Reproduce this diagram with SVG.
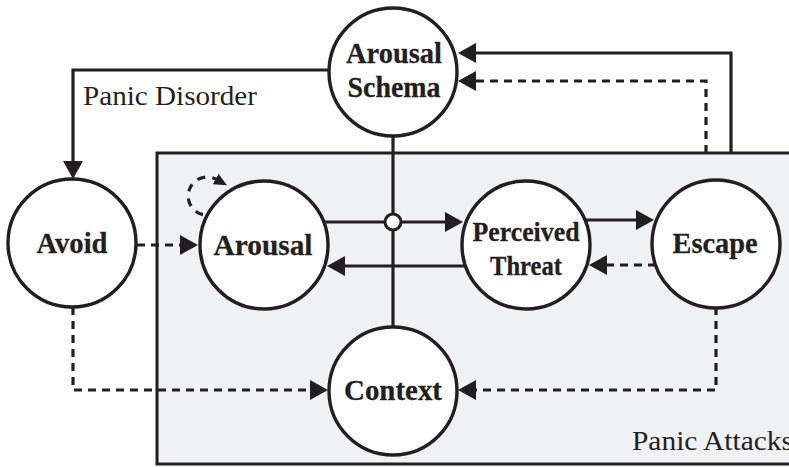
<svg xmlns="http://www.w3.org/2000/svg" width="789" height="467" viewBox="0 0 789 467">
  <style>
    .node circle { fill: #ffffff; stroke: #231f20; stroke-width: 3.4; }
    .lbl { font-weight: bold; font-size: 30px; fill: #231f20; stroke: #231f20; stroke-width: 0.3; text-anchor: middle; }
    .lbl.small { font-size: 27px; }
    .cap { font-size: 28px; fill: #231f20; }
    .edge { fill: none; stroke: #231f20; stroke-width: 3.2; }
    .dash { stroke-dasharray: 8 6; }
    .loop { stroke-dasharray: 8 7; }
  </style>
  <defs>
    <marker id="ah" viewBox="0 0 18 20" refX="8" refY="10" markerWidth="18" markerHeight="20" markerUnits="userSpaceOnUse" orient="auto">
      <path d="M0,0 L18,10 L0,20 Z" fill="#231f20"/>
    </marker>
    <marker id="ah-sm" viewBox="0 0 13 12" refX="1" refY="6" markerWidth="13" markerHeight="12" markerUnits="userSpaceOnUse" orient="auto">
      <path d="M0,0 L13,6 L0,12 Z" fill="#231f20"/>
    </marker>
  </defs>

  <!-- Panic Attacks region -->
  <g id="panic-attacks">
    <rect x="157" y="153" width="650" height="311" fill="#f0f1f3" stroke="#231f20" stroke-width="3"/>
    <text class="cap" font-family="Liberation Serif, Tinos, Times New Roman, serif" x="632" y="450" textLength="161" lengthAdjust="spacingAndGlyphs">Panic Attacks</text>
  </g>

  <text id="panic-disorder" class="cap" font-family="Liberation Serif, Tinos, Times New Roman, serif" x="83" y="105" textLength="174" lengthAdjust="spacingAndGlyphs">Panic Disorder</text>

  <!-- connectors -->
  <g id="connectors">
    <!-- Arousal Schema -> Avoid -->
    <path class="edge" d="M329,70 H73 V169" marker-end="url(#ah)"/>
    <!-- Arousal Schema / Context axis -->
    <path class="edge" d="M393,136 V327"/>
    <!-- Arousal -> Perceived Threat -->
    <path class="edge" d="M324,222 H453" marker-end="url(#ah)"/>
    <!-- Perceived Threat -> Arousal -->
    <path class="edge" d="M465,266 H337" marker-end="url(#ah)"/>
    <!-- Perceived Threat -> Escape -->
    <path class="edge" d="M585,220 H644" marker-end="url(#ah)"/>
    <!-- Escape -> Perceived Threat -->
    <path class="edge dash" d="M656,265 H599" marker-end="url(#ah)"/>
    <!-- Escape -> Arousal Schema -->
    <path class="edge" d="M731,153 V53 H468" marker-end="url(#ah)"/>
    <path class="edge dash" d="M706,153 V81 H468" marker-end="url(#ah)"/>
    <!-- Avoid -> Arousal -->
    <path class="edge dash" d="M137,245 H188" marker-end="url(#ah)"/>
    <!-- Avoid -> Context -->
    <path class="edge dash" d="M73,307 V390 H318" marker-end="url(#ah)"/>
    <!-- Escape -> Context -->
    <path class="edge dash" d="M716,307 V390 H468" marker-end="url(#ah)"/>
    <!-- Arousal self-loop -->
    <path class="edge loop" d="M203,214.6 A19,19 0 1 1 216.5,179.5" marker-end="url(#ah-sm)"/>
    <!-- junction -->
    <circle cx="393" cy="222" r="8" fill="#ffffff" stroke="#231f20" stroke-width="3"/>
  </g>

  <g font-family="Liberation Serif, Tinos, Times New Roman, serif">
    <g id="arousal-schema" class="node">
      <circle cx="393" cy="72" r="64"/>
      <text class="lbl" x="394" y="63" textLength="96" lengthAdjust="spacingAndGlyphs">Arousal</text>
      <text class="lbl" x="394" y="97" textLength="93" lengthAdjust="spacingAndGlyphs">Schema</text>
    </g>
    <g id="avoid" class="node">
      <circle cx="72" cy="243" r="64"/>
      <text class="lbl" x="72" y="253" textLength="71" lengthAdjust="spacingAndGlyphs">Avoid</text>
    </g>
    <g id="arousal" class="node">
      <circle cx="264" cy="245" r="64"/>
      <text class="lbl" x="263" y="255" textLength="99" lengthAdjust="spacingAndGlyphs">Arousal</text>
    </g>
    <g id="perceived-threat" class="node">
      <circle cx="526" cy="245" r="64"/>
      <text class="lbl small" x="526" y="241" textLength="107" lengthAdjust="spacingAndGlyphs">Perceived</text>
      <text class="lbl small" x="526" y="275" textLength="72" lengthAdjust="spacingAndGlyphs">Threat</text>
    </g>
    <g id="escape" class="node">
      <circle cx="716" cy="244" r="64"/>
      <text class="lbl" x="715" y="253" textLength="85" lengthAdjust="spacingAndGlyphs">Escape</text>
    </g>
    <g id="context" class="node">
      <circle cx="393" cy="391" r="64"/>
      <text class="lbl" x="393" y="400" textLength="98" lengthAdjust="spacingAndGlyphs">Context</text>
    </g>
  </g>
</svg>
